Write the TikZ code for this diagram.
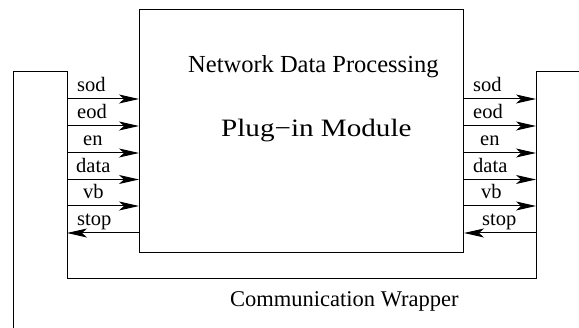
\documentclass[tikz,border=0pt]{standalone}
\usepackage{fontspec}
\setmainfont{Liberation Serif}
\usetikzlibrary{arrows.meta}
\begin{document}
\begin{tikzpicture}[x=1pt,y=-1pt,
  wire/.style={line width=1pt},
  sig/.style={line width=1pt,-{Stealth[length=20pt,width=9pt,inset=5pt]}},
  lbl/.style={anchor=base west,inner sep=0pt,font=\fontsize{20.5}{24}\selectfont},
  title/.style={anchor=base west,inner sep=0pt,font=\fontsize{24.5}{29}\selectfont}]
\useasboundingbox (0,0) rectangle (579,328);
% processing module
\node[draw,line width=1pt,minimum width=324pt,minimum height=243pt,
      inner sep=0pt,anchor=north west] (mod) at (139,9) {};
% communication wrapper outline
\coordinate (wa) at (13,328);
\coordinate (wb) at (13,72);
\coordinate (wc) at (67,72);
\coordinate (wd) at (67,279);
\coordinate (we) at (536,279);
\coordinate (wf) at (536,72);
\coordinate (wg) at (579,72);
\draw[wire] (wa) -- (wb) -- (wc) -- (wd) -- (we) -- (wf) -- (wg);
% input signals
\foreach \y/\n in {99/1,126/2,153/3,179.5/4,206/5} {
  \coordinate (L\n) at (67,\y);
  \coordinate (R\n) at (536,\y);
  \draw[sig] (L\n) -- (L\n -| mod.west);
  \draw[sig] (R\n -| mod.east) -- (R\n);
}
% stop signals
\coordinate (L6) at (67,233);
\coordinate (R6) at (536,233);
\draw[sig] (L6 -| mod.west) -- (L6);
\draw[sig] (R6) -- (R6 -| mod.east);
% signal labels, left
\node[lbl] (ls1) at (77,92) {sod};
\node[lbl] (ls2) at (77,119) {eod};
\node[lbl] (ls3) at (83,146) {en};
\node[lbl] (ls4) at (76,172.5) {data};
\node[lbl] (ls5) at (83,199) {vb};
\node[lbl] (ls6) at (77,226) {stop};
% signal labels, right
\node[lbl] (rs1) at (473,92) {sod};
\node[lbl] (rs2) at (473,119) {eod};
\node[lbl] (rs3) at (480,146) {en};
\node[lbl] (rs4) at (473,172.5) {data};
\node[lbl] (rs5) at (481,199) {vb};
\node[lbl] (rs6) at (482,226) {stop};
% titles
\node[title] (t1) at (188,73) {Network Data Processing};
\node[title,font=\fontsize{25}{30}\selectfont] (t2) at (221,137)
  {\scalebox{1.165}[1]{Plug−in Module}};
\node[title,font=\fontsize{22.5}{27}\selectfont] (t3) at (230,307)
  {Communication Wrapper};
\end{tikzpicture}
\end{document}
